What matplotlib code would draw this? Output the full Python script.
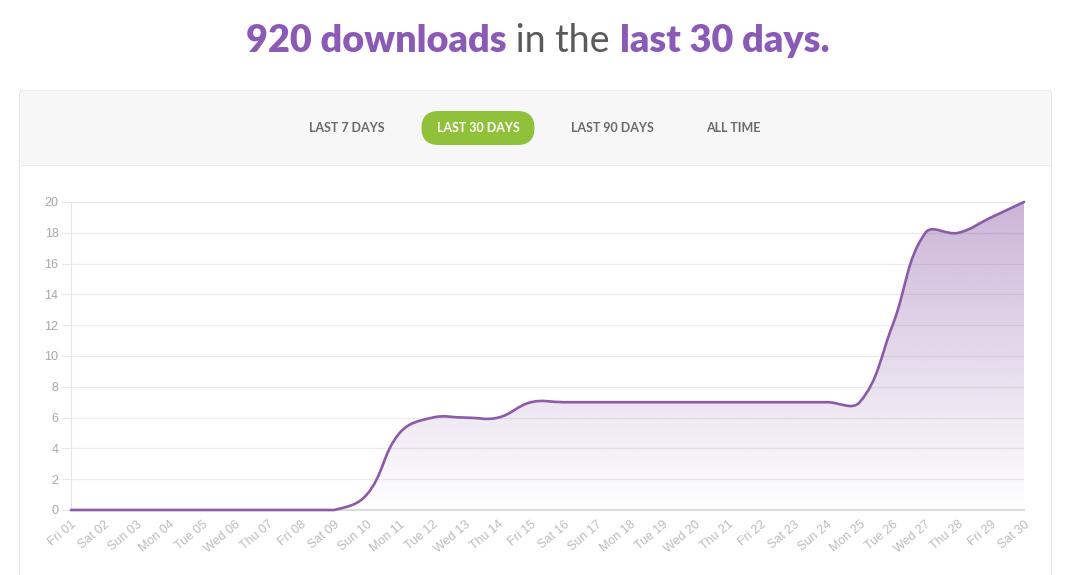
import numpy as np
import matplotlib
matplotlib.use("Agg")
import matplotlib.pyplot as plt
from matplotlib.path import Path
from matplotlib.patches import PathPatch, FancyBboxPatch, Rectangle
from matplotlib.transforms import IdentityTransform

# data
days = ["Fri 01", "Sat 02", "Sun 03", "Mon 04", "Tue 05", "Wed 06", "Thu 07", "Fri 08",
        "Sat 09", "Sun 10", "Mon 11", "Tue 12", "Wed 13", "Thu 14", "Fri 15", "Sat 16",
        "Sun 17", "Mon 18", "Tue 19", "Wed 20", "Thu 21", "Fri 22", "Sat 23", "Sun 24",
        "Mon 25", "Tue 26", "Wed 27", "Thu 28", "Fri 29", "Sat 30"]
downloads = [0, 0, 0, 0, 0, 0, 0, 0, 0, 1, 5, 6, 6, 6, 7, 7, 7, 7, 7, 7,
             7, 7, 7, 7, 7, 12, 18, 18, 19, 20]
yticks = [0, 2, 4, 6, 8, 10, 12, 14, 16, 18, 20]
buttons = ["LAST 7 DAYS", "LAST 30 DAYS", "LAST 90 DAYS", "ALL TIME"]
active_button = "LAST 30 DAYS"

PURPLE = "#8b5aa8"
TITLE_PURPLE = "#8a5ab6"
GREEN = "#90c13b"

W, H = 1075, 575
fig = plt.figure(figsize=(W / 100, H / 100), dpi=100)
fig.patch.set_facecolor("white")
px = IdentityTransform()

# card background
card = FancyBboxPatch((19.5, -20), 1032, H - 90 + 20 - 0.5, boxstyle="round,pad=0,rounding_size=4",
                      transform=px, facecolor="white", edgecolor="#e4e4e4", lw=0.8, zorder=-3)
fig.patches.append(card)
header = FancyBboxPatch((20.5, H - 165), 1030, 74.5, boxstyle="round,pad=0,rounding_size=3",
                        transform=px, facecolor="#f7f7f7", edgecolor="none", zorder=-2)
fig.patches.append(header)
fig.patches.append(Rectangle((20.5, H - 166), 1030, 1, transform=px, facecolor="#ebebeb",
                             edgecolor="none", zorder=-1.5))

# buttons
btn_x = [347, 478, 612, 733]
for name, bx in zip(buttons, btn_x):
    if name == active_button:
        pill = FancyBboxPatch((bx - 56.5, H - 145), 113, 34, boxstyle="round,pad=0,rounding_size=17",
                              transform=px, facecolor=GREEN, edgecolor="none", zorder=-1)
        fig.patches.append(pill)
        col = "white"
    else:
        col = "#6a6a6a"
    fig.text(bx / W, (H - 128) / H, name, ha="center", va="center", fontsize=9,
             fontweight="bold", family="Lato", color=col, zorder=2)

# title built from three pieces
renderer = fig.canvas.get_renderer()
pieces = [("920 downloads", TITLE_PURPLE, "heavy"), (" in the ", "#5a5a5a", "normal"),
          ("last 30 days.", TITLE_PURPLE, "heavy")]
texts = []
for s, c, w in pieces:
    t = fig.text(0, (H - 52) / H, s, color=c, fontweight=w, family="Lato", fontsize=27.2,
                 ha="left", va="baseline")
    texts.append(t)
widths = [t.get_window_extent(renderer).width for t in texts]
x = (W - sum(widths)) / 2
for t, wd in zip(texts, widths):
    t.set_x(x / W)
    x += wd

# chart
ax = fig.add_axes([71 / W, (H - 510) / H, (1024 - 71) / W, (510 - 202) / H])
ax.set_zorder(5)
ax.set_facecolor("none")
xs = np.arange(len(downloads), dtype=float)
ys = np.array(downloads, dtype=float)

# chart.js style bezier spline (tension 0.4), distances in pixel space
sx, sy = (1024 - 71) / 29.0, (510 - 202) / 20.0
tension = 0.4
cp_prev, cp_next = [], []
n = len(xs)
for i in range(n):
    p0 = np.array([xs[max(i - 1, 0)], ys[max(i - 1, 0)]])
    p1 = np.array([xs[i], ys[i]])
    p2 = np.array([xs[min(i + 1, n - 1)], ys[min(i + 1, n - 1)]])
    d01 = np.hypot((p1[0] - p0[0]) * sx, (p1[1] - p0[1]) * sy)
    d12 = np.hypot((p2[0] - p1[0]) * sx, (p2[1] - p1[1]) * sy)
    tot = d01 + d12 if d01 + d12 > 0 else 1
    fa, fb = tension * d01 / tot, tension * d12 / tot
    a = p1 - fa * (p2 - p0)
    b = p1 + fb * (p2 - p0)
    a[1] = np.clip(a[1], 0, 20)
    b[1] = np.clip(b[1], 0, 20)
    cp_prev.append(a)
    cp_next.append(b)

verts = [(xs[0], ys[0])]
codes = [Path.MOVETO]
for i in range(n - 1):
    verts += [tuple(cp_next[i]), tuple(cp_prev[i + 1]), (xs[i + 1], ys[i + 1])]
    codes += [Path.CURVE4] * 3
line_path = Path(verts, codes)
fill_path = Path(verts + [(xs[-1], 0), (xs[0], 0), (xs[0], ys[0])],
                 codes + [Path.LINETO, Path.LINETO, Path.CLOSEPOLY])

# gradient fill under the line
grad = np.zeros((256, 1, 4))
rgb = matplotlib.colors.to_rgb(PURPLE)
grad[:, 0, :3] = rgb
grad[:, 0, 3] = np.linspace(0.45, 0.0, 256)
im = ax.imshow(grad, extent=[0, 29, 0, 20], aspect="auto", origin="upper", zorder=1,
               interpolation="bilinear")
clip = PathPatch(fill_path, transform=ax.transData, facecolor="none", edgecolor="none")
ax.add_patch(clip)
im.set_clip_path(clip)

ax.add_patch(PathPatch(line_path, facecolor="none", edgecolor=PURPLE, lw=1.9, zorder=3,
                       clip_on=False, capstyle="round", joinstyle="round"))

ax.set_xlim(0, 29)
ax.set_ylim(0, 20)
ax.set_yticks(yticks)
ax.set_yticklabels([str(v) for v in yticks], family="Liberation Sans", fontsize=9, color="#a8a8a8")
ax.set_xticks(xs)
ax.set_xticklabels(days, rotation=40, ha="right", va="top", rotation_mode="anchor",
                   family="Liberation Sans", fontsize=9, color="#bcbcbc")
ax.tick_params(axis="y", length=7, color="#e6e6e6", width=0.8, pad=2)
ax.tick_params(axis="x", length=0, pad=6)
ax.grid(axis="y", color="#ebebeb", lw=0.9, zorder=0)
ax.set_axisbelow(True)
for side in ["top", "right"]:
    ax.spines[side].set_visible(False)
ax.spines["left"].set_color("#e6e6e6")
ax.spines["left"].set_linewidth(0.8)
ax.spines["bottom"].set_color("#dcdcdc")
ax.spines["bottom"].set_linewidth(1.5)

fig.savefig("out.png", dpi=100, facecolor="white")
